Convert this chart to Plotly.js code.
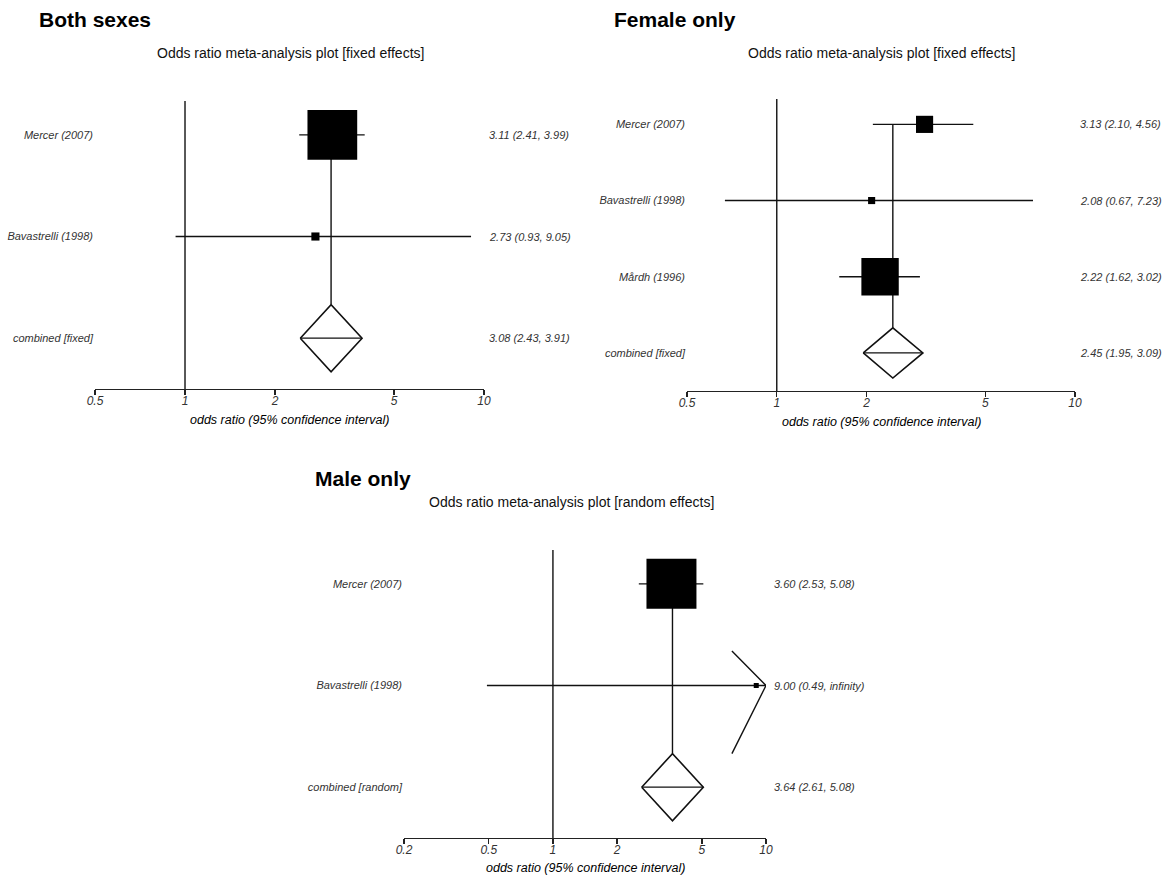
<!DOCTYPE html>
<html>
<head>
<meta charset="utf-8">
<script src="https://cdn.plot.ly/plotly-3.0.1.min.js"></script>
<style>html,body{margin:0;padding:0;background:#fff;}#chart{width:1164px;height:877px;}</style>
</head>
<body>
<div id="chart"></div>
<script>
// ---------- data ----------
const bothLabels = ['Mercer (2007)', 'Bavastrelli (1998)', 'combined [fixed]'];
const bothOR = [3.11, 2.73, 3.08];
const bothLo = [2.41, 0.93, 2.43];
const bothHi = [3.99, 9.05, 3.91];
const bothWeight = [97.4, 2.6];

const femaleLabels = ['Mercer (2007)', 'Bavastrelli (1998)', 'Mårdh (1996)', 'combined [fixed]'];
const femaleOR = [3.13, 2.08, 2.22, 2.45];
const femaleLo = [2.10, 0.67, 1.62, 1.95];
const femaleHi = [4.56, 7.23, 3.02, 3.09];
const femaleWeight = [16.9, 2.9, 80.2];

const maleLabels = ['Mercer (2007)', 'Bavastrelli (1998)', 'combined [random]'];
const maleOR = [3.60, 9.00, 3.64];
const maleLo = [2.53, 0.49, 2.61];
const maleHi = [5.08, Infinity, 5.08];
const maleWeight = [99.0, 1.0];

const ticksTop = [0.5, 1, 2, 5, 10];
const ticksBottom = [0.2, 0.5, 1, 2, 5, 10];

const panelTitles = ['Both sexes', 'Female only', 'Male only'];
const subTitles = ['Odds ratio meta-analysis plot [fixed effects]',
                   'Odds ratio meta-analysis plot [fixed effects]',
                   'Odds ratio meta-analysis plot [random effects]'];
const axisTitle = 'odds ratio (95% confidence interval)';

// ---------- drawing ----------
const W = 1164, H = 877;
const FONT = '"Liberation Sans", Arial, sans-serif';
const INK = '#111';
const LW = 1.4;

const panels = [
  {labels: bothLabels, or: bothOR, lo: bothLo, hi: bothHi, w: bothWeight, ticks: ticksTop,
   px: [95, 484], py: [101, 389], rowPx: 101.5, title: [37, 20], sub: [290, 53], axt: 420},
  {labels: femaleLabels, or: femaleOR, lo: femaleLo, hi: femaleHi, w: femaleWeight, ticks: ticksTop,
   px: [687, 1075], py: [99, 391], rowPx: 76.3, title: [612, 20], sub: [881, 53], axt: 422},
  {labels: maleLabels, or: maleOR, lo: maleLo, hi: maleHi, w: maleWeight, ticks: ticksBottom,
   px: [404, 766], py: [550, 838], rowPx: 102, title: [313, 478], sub: [571, 502], axt: 868}
];

const traces = [];
const annotations = [];
const layout = {
  width: W, height: H,
  margin: {l: 0, r: 0, t: 0, b: 0},
  paper_bgcolor: '#fff', plot_bgcolor: 'rgba(0,0,0,0)',
  showlegend: false, hovermode: false,
  font: {family: FONT, color: INK}
};

panels.forEach((p, k) => {
  const id = k === 0 ? '' : String(k + 1);
  const xr = 'x' + id, yr = 'y' + id;
  const n = p.labels.length;
  const yTop = n + 0.333, yBot = 0.5;
  const rows = p.labels.map((_, i) => n - i);
  const xmin = p.ticks[0], xmax = p.ticks[p.ticks.length - 1];
  const line = {color: INK, width: LW};
  const base = {xaxis: xr, yaxis: yr, mode: 'lines', hoverinfo: 'skip', cliponaxis: false};

  layout['xaxis' + id] = {
    type: 'log', range: [Math.log10(xmin), Math.log10(xmax)],
    domain: [p.px[0] / W, p.px[1] / W], anchor: yr,
    tickvals: p.ticks, ticktext: p.ticks.map(String),
    ticks: 'outside', ticklen: 5, tickwidth: 1.3, tickcolor: '#222',
    ticklabelstandoff: -5,
    showline: true, linecolor: '#222', linewidth: 1.4,
    showgrid: false, zeroline: false, fixedrange: true,
    tickfont: {family: FONT, size: 12, color: '#333', style: 'italic'}
  };
  layout['yaxis' + id] = {
    range: [yBot, yTop],
    domain: [1 - p.py[1] / H, 1 - p.py[0] / H], anchor: xr,
    tickvals: rows, ticktext: p.labels, ticks: '', showline: false,
    showgrid: false, zeroline: false, fixedrange: true, ticklabelstandoff: 1,
    tickfont: {family: FONT, size: 11, color: '#333', style: 'italic'}
  };

  // reference line at OR = 1
  traces.push(Object.assign({}, base, {x: [1, 1], y: [yBot, yTop], line}));

  const nStudies = n - 1;
  const wmax = Math.max(...p.w);
  const boxMax = 0.49 * p.rowPx;
  const comb = n - 1;
  const h = 0.33;

  // study CI lines
  for (let i = 0; i < nStudies; i++) {
    const hiC = Math.min(p.hi[i], xmax);
    traces.push(Object.assign({}, base, {x: [p.lo[i], hiC], y: [rows[i], rows[i]], line}));
    if (!isFinite(p.hi[i])) {
      const armX = Math.pow(10, Math.log10(xmax) - 0.16);
      traces.push(Object.assign({}, base, {
        x: [armX, xmax, armX], y: [rows[i] + 0.34, rows[i], rows[i] - 0.67], line}));
    }
  }
  // vertical line at pooled estimate
  traces.push(Object.assign({}, base, {x: [p.or[comb], p.or[comb]], y: [rows[0], 1 + h], line}));
  // study boxes
  traces.push({
    xaxis: xr, yaxis: yr, mode: 'markers', hoverinfo: 'skip', cliponaxis: false,
    x: p.or.slice(0, nStudies), y: rows.slice(0, nStudies),
    marker: {symbol: 'square', color: '#000', opacity: 1,
             size: p.w.map(v => Math.max(5, boxMax * Math.sqrt(v / wmax))), line: {width: 0}}
  });
  // pooled diamond
  const lc = p.lo[comb], hc = p.hi[comb], oc = p.or[comb];
  traces.push(Object.assign({}, base, {
    x: [lc, oc, hc, oc, lc], y: [1, 1 + h, 1, 1 - h, 1],
    fill: 'toself', fillcolor: '#fff', line: {color: INK, width: 1.6}}));
  traces.push(Object.assign({}, base, {x: [lc, hc], y: [1, 1], line}));

  // right-hand text
  p.labels.forEach((_, i) => {
    const hiTxt = isFinite(p.hi[i]) ? p.hi[i].toFixed(2) : 'infinity';
    annotations.push({
      xref: xr + ' domain', yref: yr, x: 1, y: rows[i], xanchor: 'left', yanchor: 'middle',
      xshift: k === 2 ? 6 : 3, showarrow: false,
      text: `${p.or[i].toFixed(2)} (${p.lo[i].toFixed(2)}, ${hiTxt})`,
      font: {family: FONT, size: 11, color: '#333', style: 'italic'}
    });
  });

  // titles
  annotations.push({xref: 'paper', yref: 'paper', x: p.title[0] / W, y: 1 - p.title[1] / H,
    xanchor: 'left', yanchor: 'middle', showarrow: false, text: '<b>' + panelTitles[k] + '</b>',
    font: {family: FONT, size: 21, color: '#000'}});
  annotations.push({xref: 'paper', yref: 'paper', x: p.sub[0] / W, y: 1 - p.sub[1] / H,
    xanchor: 'center', yanchor: 'middle', showarrow: false, text: subTitles[k],
    font: {family: FONT, size: 14, color: '#111'}});
  annotations.push({xref: 'paper', yref: 'paper', x: (p.px[0] + p.px[1]) / 2 / W, y: 1 - p.axt / H,
    xanchor: 'center', yanchor: 'middle', showarrow: false, text: axisTitle,
    font: {family: FONT, size: 12.5, color: '#000', style: 'italic'}});
});

layout.annotations = annotations;
Plotly.newPlot('chart', traces, layout, {staticPlot: true, displayModeBar: false});
</script>
</body>
</html>
